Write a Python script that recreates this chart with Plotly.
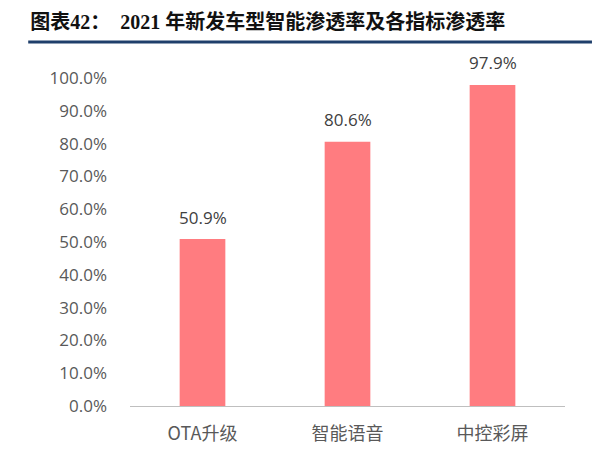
import plotly.graph_objects as go

categories = ["OTA升级", "智能语音", "中控彩屏"]
values = [50.9, 80.6, 97.9]
tick_vals = [0, 10, 20, 30, 40, 50, 60, 70, 80, 90, 100]
tick_text = [f"{v:.1f}%" for v in tick_vals]
title_text = "图表42：  2021 年新发车型智能渗透率及各指标渗透率"

fig = go.Figure()
fig.add_trace(go.Bar(
    x=categories, y=values,
    marker=dict(color="#FF7C80", line=dict(width=0)),
    width=0.315,
))
for c, v in zip(categories, values):
    fig.add_annotation(
        x=c, y=v, text=f"{v:.1f}%", showarrow=False,
        yanchor="middle", yshift=22,
        font=dict(family="Open Sans", size=17, color="#404040"),
    )

fig.update_layout(
    width=584, height=448,
    margin=dict(l=122, r=27, t=70, b=50),
    paper_bgcolor="white", plot_bgcolor="white",
    showlegend=False,
    font=dict(family="Open Sans, Noto Sans CJK SC", color="#595959"),
    title=dict(
        text="<b>" + title_text + "</b>",
        x=0.038, xanchor="left", y=0.968, yanchor="middle",
        font=dict(family="Liberation Serif, Noto Sans CJK SC", size=20, color="#111111"),
    ),
    xaxis=dict(
        showline=True, linecolor="#BFBFBF", linewidth=1,
        ticks="", showgrid=False,
        tickfont=dict(family="Noto Sans CJK SC", size=18, color="#595959"),
        ticklabelstandoff=11,
    ),
    yaxis=dict(
        range=[0, 100], tickvals=tick_vals, ticktext=tick_text,
        showline=False, showgrid=False, zeroline=False, ticks="",
        tickfont=dict(family="Open Sans", size=17, color="#595959"),
        ticklabelstandoff=22,
    ),
    shapes=[
        dict(type="line", xref="paper", yref="paper",
             x0=-0.234, x1=1.062, y0=1.11, y1=1.11,
             line=dict(color="#1F3F6B", width=3)),
    ],
)

fig.write_html("out.html")
